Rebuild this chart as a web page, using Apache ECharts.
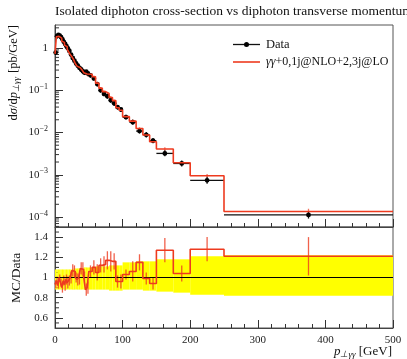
<!DOCTYPE html>
<html><head><meta charset="utf-8">
<script src="https://cdn.jsdelivr.net/npm/echarts@6/dist/echarts.min.js"></script>
<style>html,body{margin:0;padding:0;background:#fff}#c{width:407px;height:359px}</style>
</head><body><div id="c"></div>
<script>
// ---- data ----
const binEdges = [0,2,4,6,8,10,12,14,16,18,20,22.5,25,27.5,30,32.5,35,37.5,40,42.5,45,47.5,50,
  55,60,65,70,75,80,85,90,95,100,110,120,130,140,150,175,200,250,500];
const dataValues = [0.78,1.9,2.05,1.95,1.8,1.6,1.4,1.25,1.1,0.98,
  0.85,0.70,0.58,0.50,0.43,0.38,0.34,0.31,0.28,0.26,0.275,0.25,
  0.225,0.19,0.14,0.10,0.082,0.072,0.058,0.049,0.040,0.035,
  0.023,0.0175,0.0108,0.0088,0.0064,
  0.0032,0.00185,0.00074,0.000112];
const dataRelErrUp = [0.08,0.08,0.08,0.08,0.08,0.08,0.08,0.08,0.08,0.08,
  0.08,0.08,0.08,0.09,0.09,0.09,0.09,0.09,0.09,0.10,0.10,0.10,
  0.10,0.10,0.11,0.11,0.11,0.11,0.12,0.12,0.12,0.12,
  0.15,0.15,0.16,0.16,0.16,
  0.18,0.18,0.21,0.22];
const dataRelErrDown = [0.12,0.12,0.12,0.12,0.12,0.12,0.12,0.12,0.12,0.12,
  0.12,0.12,0.12,0.12,0.12,0.12,0.12,0.12,0.12,0.12,0.12,0.12,
  0.12,0.12,0.12,0.12,0.12,0.12,0.13,0.13,0.13,0.13,
  0.12,0.12,0.12,0.13,0.13,
  0.14,0.15,0.17,0.18];
const mcOverData = [0.93,0.97,0.92,1.0,0.95,0.9,0.97,0.93,0.98,0.95,
  0.97,1.0,1.07,1.06,1.0,0.98,1.0,1.09,1.08,1.0,0.88,0.9,
  1.06,1.1,1.05,1.12,1.13,1.17,1.16,1.16,0.96,0.96,
  1.03,1.06,1.15,0.99,0.94,
  1.27,1.04,1.28,1.21];
const mcRatioErr = [0.04,0.04,0.03,0.03,0.04,0.05,0.05,0.06,0.05,0.06,
  0.05,0.06,0.06,0.06,0.05,0.06,0.07,0.06,0.07,0.06,0.06,0.06,
  0.06,0.07,0.08,0.07,0.08,0.09,0.10,0.08,0.06,0.07,
  0.05,0.10,0.08,0.06,0.06,
  0.12,0.08,0.12,0.19];
const xTickLabels = [0,100,200,300,400,500];
const ratioTickLabels = [0.6,0.8,1,1.2,1.4];

// ---- derived ----
const FONT = 'Liberation Serif';
const RED = '#ee3a1f';
const nBins = dataValues.length;
const mcValues = dataValues.map((v,i)=>v*mcOverData[i]);
const dataPts = dataValues.map((v,i)=>[binEdges[i],binEdges[i+1],v,v*(1-dataRelErrDown[i]),v*(1+dataRelErrUp[i])]);
const mcStep = mcValues.map((v,i)=>[binEdges[i],v]).concat([[binEdges[nBins],mcValues[nBins-1]]]);
const mcErrTop = mcValues.map((v,i)=>[(binEdges[i]+binEdges[i+1])/2,v-mcRatioErr[i]*dataValues[i],v+mcRatioErr[i]*dataValues[i]]);
const ratioStep = mcOverData.map((r,i)=>[binEdges[i],r]).concat([[binEdges[nBins],mcOverData[nBins-1]]]);
const ratioErr = mcOverData.map((r,i)=>[(binEdges[i]+binEdges[i+1])/2,r-mcRatioErr[i],r+mcRatioErr[i]]);
const band = dataValues.map((v,i)=>[binEdges[i],binEdges[i+1],1-dataRelErrDown[i],1+dataRelErrUp[i]]);

const Y_MIN = 5.8e-5, Y_MAX = 3.5;
const logMinor = [];
for (let e=-5;e<=0;e++) for (let m=2;m<=9;m++){const v=m*Math.pow(10,e); if(v>Y_MIN&&v<Y_MAX) logMinor.push([0,v]);}
const ratioMinor = [];
for (let k=11;k<30;k++){ const v=k*0.05; if (Math.abs(v*5-Math.round(v*5))>1e-6) ratioMinor.push([0,+v.toFixed(2)]); }

const chart = echarts.init(document.getElementById('c'));

function errBarItem(color,w,op){
  return (params, api)=>{
    const x=api.value(0), a=api.coord([x,api.value(1)]), b=api.coord([x,api.value(2)]);
    return {type:'line',shape:{x1:a[0],y1:a[1],x2:b[0],y2:b[1]},style:{stroke:color,lineWidth:w,opacity:op}};
  };
}
function minorTickItem(len){
  return (params, api)=>{
    const p=api.coord([api.value(0),api.value(1)]);
    return {type:'line',shape:{x1:p[0],y1:p[1],x2:p[0]+len,y2:p[1]},style:{stroke:'#333',lineWidth:1}};
  };
}

const axisTxt = {fontFamily:FONT,fontSize:11,color:'#222'};

chart.setOption({
  animation:false,
  textStyle:{fontFamily:FONT},
  grid:[
    {left:55,top:25,width:338,height:202,show:true,borderColor:'#555',borderWidth:1,outerBoundsMode:'none'},
    {left:55,top:227,width:338,height:101,show:true,borderColor:'#555',borderWidth:1,outerBoundsMode:'none'}
  ],
  xAxis:[
    {type:'value',gridIndex:0,min:0,max:500,interval:100,splitLine:{show:false},
     axisLine:{show:true,lineStyle:{color:'#444'}},axisTick:{inside:true,length:8,lineStyle:{color:'#333'}},
     minorTick:{show:true,splitNumber:5,length:4,lineStyle:{color:'#333'}},axisLabel:{show:false}},
    {type:'value',gridIndex:1,min:0,max:500,interval:100,splitLine:{show:false},
     axisLine:{show:true,lineStyle:{color:'#444'}},axisTick:{inside:true,length:8,lineStyle:{color:'#333'}},
     minorTick:{show:true,splitNumber:5,length:4,lineStyle:{color:'#333'}},
     axisLabel:Object.assign({margin:7,formatter:v=>xTickLabels.includes(v)?String(v):''},axisTxt)}
  ],
  yAxis:[
    {type:'log',logBase:10,gridIndex:0,min:Y_MIN,max:Y_MAX,splitLine:{show:false},
     axisLine:{show:true,lineStyle:{color:'#444'}},axisTick:{inside:true,length:8,lineStyle:{color:'#333'}},
     axisLabel:Object.assign({margin:7,showMinLabel:false,showMaxLabel:false,
       formatter:v=>{const e=Math.round(Math.log10(v)); if(Math.abs(Math.log10(v)-e)>1e-6) return ''; return e===0?'1':'{b|10}{s|−'+(-e)+'}';},
       rich:{b:{fontFamily:FONT,fontSize:11,color:'#222'},s:{fontFamily:FONT,fontSize:8,color:'#222',padding:[0,0,7,0]}}},axisTxt)},
    {type:'value',gridIndex:1,min:0.5,max:1.5,splitNumber:5,splitLine:{show:false},
     axisLine:{show:true,lineStyle:{color:'#444'}},axisTick:{inside:true,length:8,lineStyle:{color:'#333'}},
     axisLabel:Object.assign({margin:7,showMinLabel:false,showMaxLabel:false,
       formatter:v=>{const r=ratioTickLabels.find(t=>Math.abs(t-v)<1e-6); return r===undefined?'':String(r);}},axisTxt)}
  ],
  series:[
    {type:'custom',xAxisIndex:0,yAxisIndex:0,data:logMinor,renderItem:minorTickItem(4),clip:false,silent:true},
    {type:'custom',xAxisIndex:1,yAxisIndex:1,data:ratioMinor,renderItem:minorTickItem(4),clip:false,silent:true},
    // top panel MC
    {type:'custom',xAxisIndex:0,yAxisIndex:0,data:mcErrTop,encode:{x:0,y:[1,2]},renderItem:errBarItem(RED,1.3,0.7),silent:true},
    {type:'line',xAxisIndex:0,yAxisIndex:0,data:mcStep,step:'end',symbol:'none',lineStyle:{color:RED,width:1.6},silent:true},
    // top panel data
    {type:'custom',xAxisIndex:0,yAxisIndex:0,data:dataPts,encode:{x:[0,1],y:[2,3,4]},silent:true,
     renderItem:(params,api)=>{
       const lo=api.value(0),hi=api.value(1),v=api.value(2),eL=api.value(3),eH=api.value(4),c=(lo+hi)/2;
       const pL=api.coord([lo,v]),pR=api.coord([hi,v]),pD=api.coord([c,eL]),pU=api.coord([c,eH]),pC=api.coord([c,v]);
       return {type:'group',children:[
         {type:'line',shape:{x1:pL[0],y1:pL[1],x2:pR[0],y2:pR[1]},style:{stroke:'#111',lineWidth:1.3}},
         {type:'line',shape:{x1:pD[0],y1:pD[1],x2:pU[0],y2:pU[1]},style:{stroke:'#111',lineWidth:1.3}},
         {type:'circle',shape:{cx:pC[0],cy:pC[1],r:2.4},style:{fill:'#000'}}
       ]};
     }},
    // ratio panel
    {type:'custom',xAxisIndex:1,yAxisIndex:1,data:band,encode:{x:[0,1],y:[2,3]},silent:true,
     renderItem:(params,api)=>{
       const a=api.coord([api.value(0),api.value(3)]),b=api.coord([api.value(1),api.value(2)]);
       return {type:'rect',shape:{x:a[0],y:a[1],width:b[0]-a[0],height:b[1]-a[1]},style:{fill:'#ffff00'}};
     }},
    {type:'line',xAxisIndex:1,yAxisIndex:1,data:[[0,1],[500,1]],symbol:'none',lineStyle:{color:'#000',width:1.2},silent:true},
    {type:'custom',xAxisIndex:1,yAxisIndex:1,data:ratioErr,encode:{x:0,y:[1,2]},renderItem:errBarItem(RED,1.3,0.8),silent:true},
    {type:'line',xAxisIndex:1,yAxisIndex:1,data:ratioStep,step:'end',symbol:'none',lineStyle:{color:RED,width:1.6},silent:true}
  ],
  graphic:[
    {type:'text',left:55,top:4,style:{text:'Isolated diphoton cross-section vs diphoton transverse momentum',fontFamily:FONT,fontSize:13.5,fill:'#111'}},
    // legend
    {type:'line',shape:{x1:233,y1:44.5,x2:260,y2:44.5},style:{stroke:'#111',lineWidth:1.3}},
    {type:'circle',shape:{cx:246.5,cy:44.5,r:2.5},style:{fill:'#000'}},
    {type:'text',x:266,y:44.5,style:{text:'Data',fontFamily:FONT,fontSize:12.5,fill:'#111',verticalAlign:'middle'}},
    {type:'line',shape:{x1:233,y1:62,x2:260,y2:62},style:{stroke:RED,lineWidth:1.6}},
    {type:'text',x:266,y:62,style:{text:'{i|γγ}+0,1j@NLO+2,3j@LO',fontFamily:FONT,fontSize:12,fill:'#111',verticalAlign:'middle',
      rich:{i:{fontFamily:FONT,fontStyle:'italic',fontSize:12}}}},
    // axis titles
    {type:'text',x:14,y:25,rotation:Math.PI/2,style:{text:'d{i|σ}/d{i|p}{sub|⊥γγ} [pb/GeV]',fontFamily:FONT,fontSize:12.5,fill:'#111',align:'right',verticalAlign:'middle',
      rich:{i:{fontFamily:FONT,fontStyle:'italic',fontSize:12.5},sub:{fontFamily:FONT,fontStyle:'italic',fontSize:9,padding:[6,1,0,0]}}}},
    {type:'text',x:16,y:278,rotation:Math.PI/2,style:{text:'MC/Data',fontFamily:FONT,fontSize:13.5,fill:'#111',align:'center',verticalAlign:'middle'}},
    {type:'text',x:392,y:352,style:{text:'{i|p}{sub|⊥γγ} [GeV]',fontFamily:FONT,fontSize:13,fill:'#111',align:'right',verticalAlign:'middle',
      rich:{i:{fontFamily:FONT,fontStyle:'italic',fontSize:13},sub:{fontFamily:FONT,fontStyle:'italic',fontSize:9,padding:[6,0,0,0]}}}}
  ]
});
</script></body></html>
